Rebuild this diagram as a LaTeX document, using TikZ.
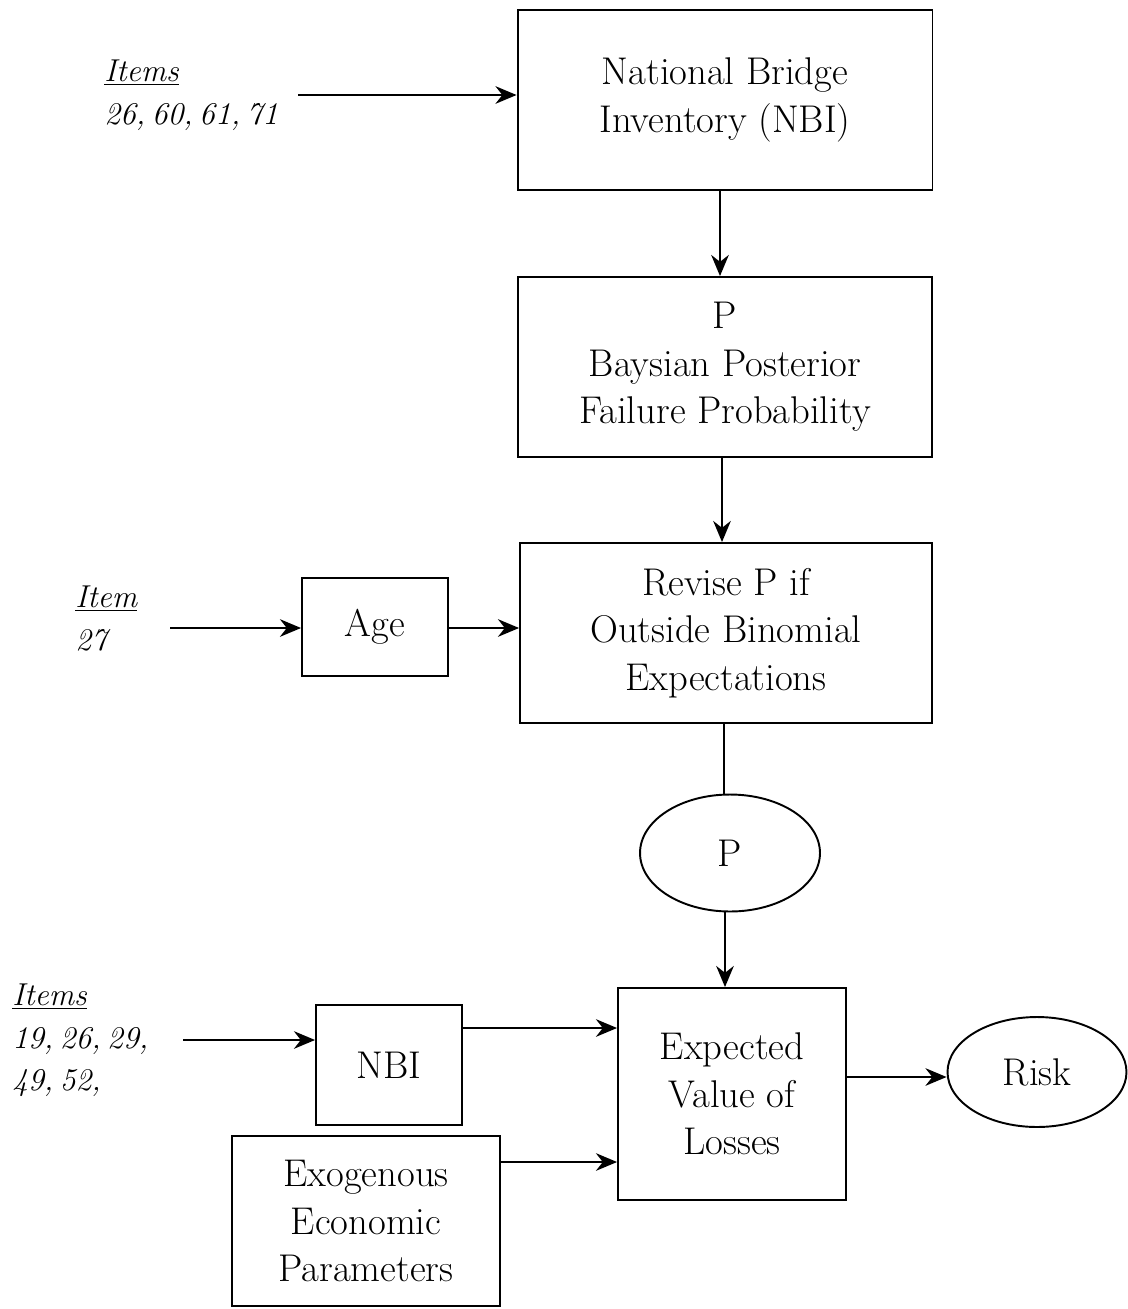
\documentclass[tikz,border=0pt]{standalone}
\usetikzlibrary{arrows.meta,shapes.geometric}

\tikzset{
  box/.style={draw, line width=1.1pt, align=center, inner sep=0pt,
    font=\fontsize{22}{27}\selectfont},
  oval/.style={draw, ellipse, line width=1.1pt, inner sep=0pt,
    font=\fontsize{22}{27}\selectfont},
  itemlbl/.style={align=left, inner sep=0pt, anchor=north west,
    font=\fontsize{18}{24}\selectfont\itshape,
    execute at begin node={\spaceskip=0.2em\relax}},
  flow/.style={line width=1.3pt, -{Stealth[length=12pt,width=10pt]}},
}

\begin{document}
\begin{tikzpicture}[x=0.02cm, y=-0.02cm]
  \useasboundingbox (0,0) rectangle (1127,1309);

  % Main column
  \node[box, minimum width=8.3cm, minimum height=3.6cm] (nbi) at (725,100)
    {National Bridge\\Inventory (NBI)};
  \node[box, minimum width=8.28cm, minimum height=3.6cm] (post) at (725,367)
    {P\\Baysian Posterior\\Failure Probability};
  \node[box, minimum width=8.24cm, minimum height=3.6cm] (revise) at (726,633)
    {Revise P if\\Outside Binomial\\Expectations};
  \node[oval, minimum width=3.6cm, minimum height=2.34cm] (pval) at (730,853) {P};
  \node[box, minimum width=4.56cm, minimum height=4.24cm] (loss) at (732,1094)
    {Expected\\Value of\\Losses};
  \node[oval, minimum width=3.58cm, minimum height=2.2cm] (risk) at (1037,1072) {Risk};

  % Side inputs
  \node[box, minimum width=2.92cm, minimum height=1.96cm] (age) at (375,627) {Age};
  \node[box, minimum width=2.92cm, minimum height=2.4cm] (nbismall) at (389,1065) {NBI};
  \node[box, minimum width=5.36cm, minimum height=3.4cm] (exo) at (366,1221)
    {Exogenous\\Economic\\Parameters};

  % Item labels
  \node[itemlbl] (items1) at (104,60) {\underline{Items}\\26, 60, 61, 71};
  \node[itemlbl] (item27) at (75,586) {\underline{Item}\\27};
  \node[itemlbl] (items3) at (12,984) {\underline{Items}\\19, 26, 29,\\49, 52,};

  \coordinate (in1) at (298,95);
  \coordinate (in2) at (170,628);
  \coordinate (in3) at (183,1040);

  % Arrows
  \draw[flow] (in1) -- (in1 -| nbi.west);
  \draw[flow] (nbi.south -| 720,0) -- (post.north -| 720,0);
  \draw[flow] (post.south -| 722,0) -- (revise.north -| 722,0);
  \draw[flow] (in2) -- (in2 -| age.west);
  \draw[flow] (age.east |- 0,628) -- (revise.west |- 0,628);
  \draw[line width=1.1pt] (revise.south -| 724,0) -- (pval.north -| 724,0);
  \draw[flow] (pval.south -| 725,0) -- (loss.north -| 725,0);
  \draw[flow] (in3) -- (in3 -| nbismall.west);
  \draw[flow] (nbismall.east |- 0,1028) -- (loss.west |- 0,1028);
  \draw[flow] (exo.east |- 0,1162) -- (loss.west |- 0,1162);
  \draw[flow] (loss.east |- 0,1077) -- (risk.west |- 0,1077);
\end{tikzpicture}
\end{document}
